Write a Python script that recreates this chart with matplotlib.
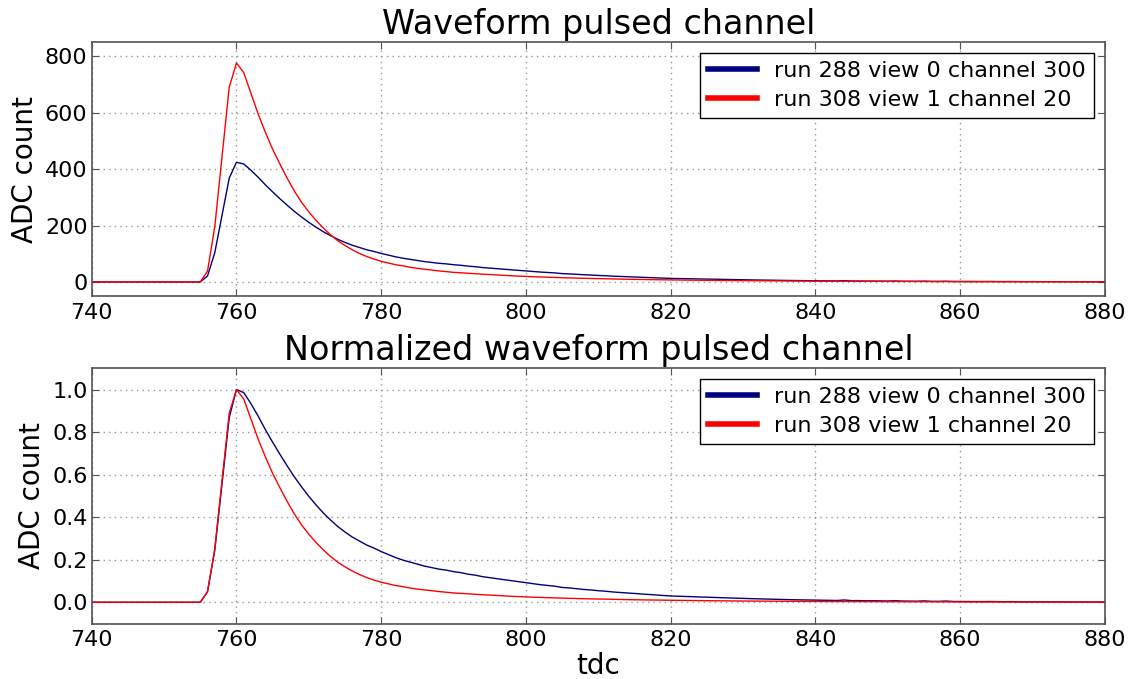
import numpy as np
import matplotlib
matplotlib.use('Agg')
import matplotlib.pyplot as plt

# tdc ticks 740..880
tdc = np.arange(740, 881)

# run 288 view 0 channel 300 (ADC)
adc_288 = [0, 0, 0, 0, 0, 0, 0, 0, 0, 0, 0, 0, 0, 0, 0,
           0, 21, 103, 235, 368, 424, 418, 396, 371, 344,
           319, 295, 272, 250, 230, 211, 194, 178, 164, 151,
           140, 130, 122, 114, 108, 101, 95, 89, 84, 80,
           76, 72, 69, 66, 64, 61, 59, 56, 54, 51,
           49, 47, 45, 43, 41, 39, 37, 35, 33.5, 32,
           29.5, 28.5, 27, 25.5, 24.5, 23, 22, 20.5, 19.5, 18.5,
           17.5, 16.5, 15.5, 14.5, 13.5, 12.5, 12, 11.5, 11, 10.5,
           10, 9.5, 9, 8.5, 8, 7.5, 7.2, 6.8, 6.4, 6,
           5.6, 5.4, 5, 4.8, 4.5, 4.2, 4.4, 3.8, 3.5, 4.6,
           3.2, 3.3, 2.9, 3.0, 2.8, 2.5, 3.1, 2.4, 2.2, 2.1,
           2.7, 1.9, 1.8, 2.4, 1.6, 1.5, 1.6, 1.4, 1.3, 1.5,
           1.2, 1.1, 1.3, 1.0, 0.9, 1.1, 0.8, 0.9, 0.7, 0.8,
           0.6, 0.7, 0.5, 0.6, 0.5, 0.4]

# run 308 view 1 channel 20 (ADC)
adc_308 = [0, 0, 0, 0, 0, 0, 0, 0, 0, 0, 0, 0, 0, 0, 0,
           0, 38, 195, 442, 690, 776, 742, 668, 595, 530,
           470, 418, 368, 322, 282, 248, 218, 191, 167, 146,
           129, 114, 101, 90, 81, 73, 67, 61, 57, 52,
           48, 45, 42, 39, 36.5, 34, 32.5, 30.8, 29, 27.5,
           26, 24.5, 23, 21.8, 20.6, 19.5, 18.5, 17.5, 16.6, 15.8,
           15, 14.3, 13.6, 12.9, 12.3, 11.7, 11.1, 10.6, 10.1, 9.6,
           9.1, 8.7, 8.3, 7.9, 7.5, 7.1, 6.8, 6.5, 6.2, 5.9,
           5.6, 5.3, 5.1, 4.9, 4.7, 4.5, 4.3, 4.1, 3.9, 3.8,
           3.6, 3.4, 3.3, 3.1, 3.0, 2.9, 2.8, 2.6, 2.5, 2.4,
           2.3, 2.2, 2.1, 2.0, 1.9, 1.8, 1.7, 1.7, 1.6, 1.5,
           1.5, 1.4, 1.4, 1.3, 1.3, 1.2, 1.2, 1.1, 1.1, 1.0,
           1.0, 0.9, 0.9, 0.9, 0.8, 0.8, 0.8, 0.7, 0.7, 0.7,
           0.6, 0.6, 0.6, 0.5, 0.5, 0.5]

labels = ['run 288 view 0 channel 300', 'run 308 view 1 channel 20']
colors = ['#000080', '#ff0000']

adc_288 = np.array(adc_288)
adc_308 = np.array(adc_308)

fig = plt.figure(figsize=(11.28, 6.79), dpi=100, facecolor='white')
ax1 = fig.add_axes([0.0813, 0.564, 0.8983, 0.374])
ax2 = fig.add_axes([0.0813, 0.0817, 0.8983, 0.3759])


def style(ax):
    ax.grid(True, linestyle=(0, (1, 3)), color='#999999', linewidth=1)
    ax.tick_params(direction='in', top=True, right=True, labelsize=16,
                   length=5, color='#555555')
    ax.tick_params(axis='x', pad=5)
    ax.tick_params(axis='y', pad=3)
    for s in ax.spines.values():
        s.set_color('#555555')
        s.set_linewidth(1.2)
    ax.set_xlim(740, 880)
    ax.set_ylabel('ADC count', fontsize=20, labelpad=4)
    leg = ax.legend(loc='upper right', fontsize=16, fancybox=False,
                    edgecolor='black', framealpha=1, handlelength=2.2,
                    borderaxespad=0.5, borderpad=0.35, labelspacing=0.4)
    leg.get_frame().set_linewidth(1)
    for h in leg.get_lines():
        h.set_linewidth(4)


ax1.plot(tdc, adc_288, color=colors[0], lw=1, label=labels[0])
ax1.plot(tdc, adc_308, color=colors[1], lw=1, label=labels[1])
ax1.set_ylim(-50, 850)
ax1.set_yticks([0, 200, 400, 600, 800])
ax1.set_title('Waveform pulsed channel', fontsize=24, pad=6)
style(ax1)

ax2.plot(tdc, adc_288 / adc_288.max(), color=colors[0], lw=1, label=labels[0])
ax2.plot(tdc, adc_308 / adc_308.max(), color=colors[1], lw=1, label=labels[1])
ax2.set_ylim(-0.1, 1.1)
ax2.set_yticks([0.0, 0.2, 0.4, 0.6, 0.8, 1.0])
ax2.yaxis.set_major_formatter(matplotlib.ticker.FormatStrFormatter('%.1f'))
ax2.set_title('Normalized waveform pulsed channel', fontsize=24, pad=6)
style(ax2)
ax2.set_xlabel('tdc', fontsize=20, labelpad=1)

fig.savefig('out.png', dpi=100, facecolor='white')
